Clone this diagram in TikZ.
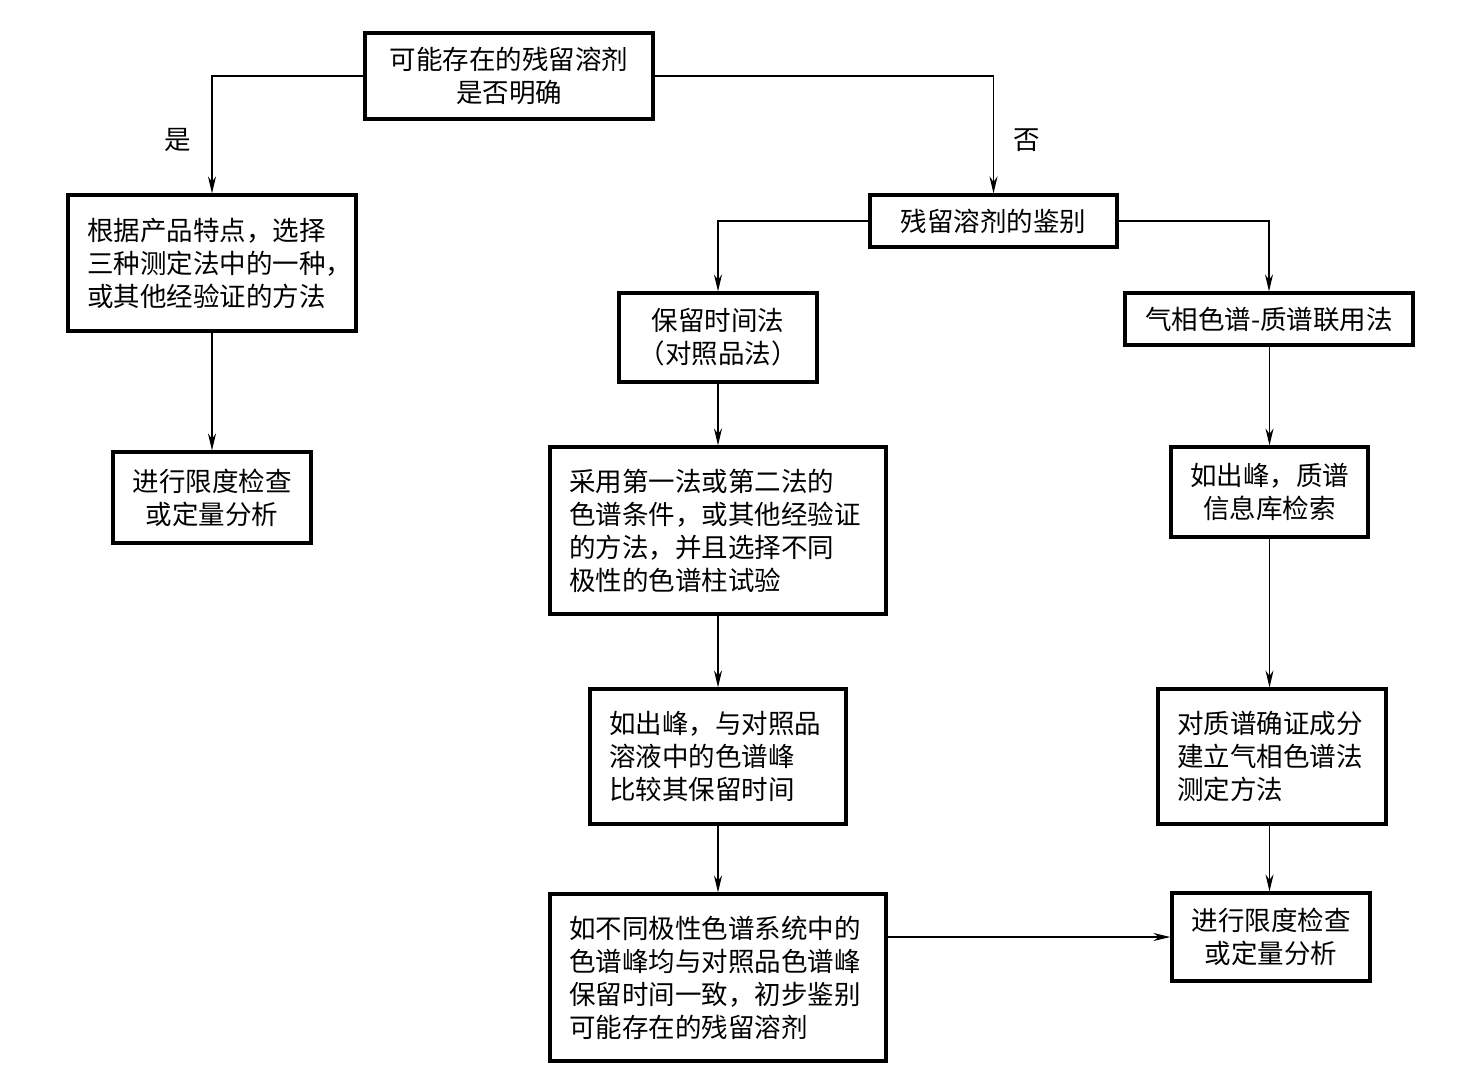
\documentclass[tikz,border=0pt]{standalone}
\usepackage{fontspec}
\setmainfont{Noto Sans CJK SC}
\usetikzlibrary{arrows.meta}
\begin{document}
\begin{tikzpicture}[x=1pt,y=-1pt,
  box/.style={draw,line width=3.2pt,inner sep=0pt,font=\fontsize{26.5}{33}\selectfont,align=center},
  lbox/.style={box,inner xsep=19pt,align=left},
  conn/.style={line width=1.2pt,-{Stealth[length=17pt,width=8pt]}},
  lab/.style={font=\fontsize{26.5}{33}\selectfont}]
\useasboundingbox (0,0) rectangle (1463,1088);
\node[box,minimum width=288pt,minimum height=86pt] (top) at (509,76) {可能存在的残留溶剂\\是否明确};
\node[lbox,text width=250pt,minimum height=136pt] (left) at (212,263) {根据产品特点，选择\\三种测定法中的一种，\\或其他经验证的方法};
\node[box,minimum width=198pt,minimum height=91pt] (lim1) at (212,497.5) {进行限度检查\\或定量分析};
\node[box,minimum width=247pt,minimum height=52pt] (ident) at (993.5,221) {残留溶剂的鉴别};
\node[box,minimum width=198pt,minimum height=89pt] (ret) at (718,337.5) {保留时间法\\（对照品法）};
\node[box,minimum width=288pt,minimum height=52pt] (gcms) at (1269,319) {气相色谱-质谱联用法};
\node[lbox,text width=298pt,minimum height=167pt] (cond) at (718,530.5) {采用第一法或第二法的\\色谱条件，或其他经验证\\的方法，并且选择不同\\极性的色谱柱试验};
\node[box,minimum width=197pt,minimum height=90pt] (peak2) at (1269.5,492) {如出峰，质谱\\信息库检索};
\node[lbox,text width=218pt,minimum height=135pt] (peak1) at (718,756.5) {如出峰，与对照品\\溶液中的色谱峰\\比较其保留时间};
\node[lbox,text width=190pt,minimum height=135pt] (conf) at (1272,756.5) {对质谱确证成分\\建立气相色谱法\\测定方法};
\node[lbox,text width=298pt,minimum height=167pt] (prelim) at (718,977.5) {如不同极性色谱系统中的\\色谱峰均与对照品色谱峰\\保留时间一致，初步鉴别\\可能存在的残留溶剂};
\node[box,minimum width=198pt,minimum height=88pt] (lim2) at (1271,937) {进行限度检查\\或定量分析};
\node[lab] (yes) at (178,140) {是};
\node[lab] (no) at (1027,140) {否};
\draw[conn] (top.west) -| (left.north);
\draw[conn] (top.east) -| (ident.north);
\draw[conn] (left.south) -- (lim1.north);
\draw[conn] (ident.west) -| (ret.north);
\draw[conn] (ident.east) -| (gcms.north);
\draw[conn] (ret.south) -- (cond.north);
\draw[conn] (cond.south) -- (peak1.north);
\draw[conn] (peak1.south) -- (prelim.north);
\draw[conn] (peak2.south |- gcms.south) -- (peak2.north);
\draw[conn] (peak2.south) -- (peak2.south |- conf.north);
\draw[conn] (peak2.south |- conf.south) -- (peak2.south |- lim2.north);
\draw[conn] (prelim.east |- lim2.west) -- (lim2.west);
\end{tikzpicture}
\end{document}
